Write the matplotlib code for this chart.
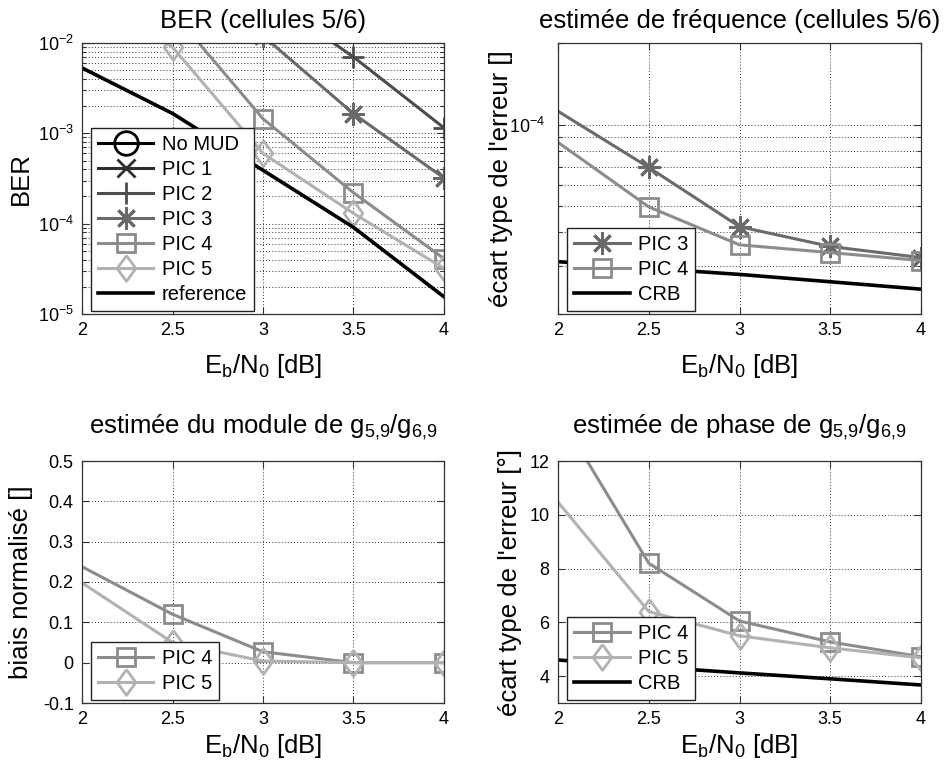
import numpy as np
import matplotlib
matplotlib.use('Agg')
import matplotlib.pyplot as plt
from matplotlib.ticker import LogLocator, NullFormatter, FixedLocator, FormatStrFormatter

plt.rcParams['font.family'] = ['Liberation Sans', 'DejaVu Sans']
plt.rcParams['mathtext.fontset'] = 'custom'
plt.rcParams['mathtext.rm'] = 'Liberation Sans'
plt.rcParams['mathtext.it'] = 'Liberation Sans:italic'
plt.rcParams['mathtext.bf'] = 'Liberation Sans:bold'

# ---------------- data ----------------
ebn0 = [2.0, 2.5, 3.0, 3.5, 4.0]
ebn0_ticks = [2, 2.5, 3, 3.5, 4]

# BER (cellules 5/6)
ber_nomud = [6.0e-2, 5.5e-2, 5.0e-2, 4.5e-2, 4.0e-2]
ber_pic1 = [4.5e-2, 3.8e-2, 3.0e-2, 2.4e-2, 1.8e-2]
ber_pic2 = [1.2e-1, 7.0e-2, 3.5e-2, 7.0e-3, 1.15e-3]
ber_pic3 = [8.0e-2, 4.0e-2, 1.2e-2, 1.65e-3, 3.2e-4]
ber_pic4 = [6.0e-2, 2.2e-2, 1.45e-3, 2.2e-4, 4.1e-5]
ber_pic5 = [4.0e-2, 9.0e-3, 6.0e-4, 1.3e-4, 3.2e-5]
ber_ref = [5.3e-3, 1.66e-3, 3.9e-4, 9.1e-5, 1.55e-5]

# estimée de fréquence
freq_pic3 = [1.12e-4, 6.95e-5, 4.2e-5, 3.55e-5, 3.23e-5]
freq_pic4 = [8.6e-5, 4.97e-5, 3.6e-5, 3.37e-5, 3.15e-5]
freq_crb = [3.12e-5, 2.95e-5, 2.8e-5, 2.63e-5, 2.47e-5]

# estimée du module
mod_pic4 = [0.238, 0.12, 0.027, 0.0, 0.0]
mod_pic5 = [0.198, 0.05, 0.004, 0.0, 0.0]

# estimée de phase
ph_pic4 = [13.8, 8.2, 6.05, 5.27, 4.72]
ph_pic5 = [10.47, 6.4, 5.5, 5.05, 4.68]
ph_crb = [4.6, 4.35, 4.12, 3.9, 3.67]

# ---------------- styles ----------------
c_nomud = '#000000'
c_pic1 = '#2e2e2e'
c_pic2 = '#4c4c4c'
c_pic3 = '#6a6a6a'
c_pic4 = '#8c8c8c'
c_pic5 = '#b2b2b2'
asterisk = (8, 2, 0)
diamond = [(0, 1), (0.73, 0), (0, -1), (-0.73, 0), (0, 1)]
LW = 2.2
MEW = 2.0

fig = plt.figure(figsize=(9.45, 7.73), dpi=100)
ax1 = fig.add_axes([82/945, 1-314/773, 362/945, 271/773])
ax2 = fig.add_axes([558/945, 1-314/773, 363/945, 271/773])
ax3 = fig.add_axes([82/945, 1-703/773, 362/945, 242/773])
ax4 = fig.add_axes([558/945, 1-703/773, 363/945, 242/773])

TITLE_FS = 18.5
LABEL_FS = 18.5
TICK_FS = 13
LEG_FS = 14.5
GRID_KW = dict(linestyle=(0, (1, 2.2)), color='#333333', linewidth=0.7)

xlab = r'E$_\mathrm{b}$/N$_\mathrm{0}$ [dB]'


def style_axes(ax, xpad):
    ax.set_xlim(2, 4)
    ax.xaxis.set_major_locator(FixedLocator(ebn0_ticks))
    ax.xaxis.set_major_formatter(FormatStrFormatter('%g'))
    ax.tick_params(which='both', direction='in', top=True, right=True,
                   labelsize=TICK_FS, pad=6, color='#333333', width=0.8)
    ax.tick_params(which='major', length=5)
    ax.tick_params(which='minor', length=3)
    for s in ax.spines.values():
        s.set_color('#333333')
        s.set_linewidth(0.9)
    ax.grid(True, which='major', **GRID_KW)
    ax.set_axisbelow(True)
    ax.set_xlabel(xlab, fontsize=LABEL_FS, labelpad=xpad)


def leg(ax, handles, labels):
    lg = ax.legend(handles, labels, loc='lower left', bbox_to_anchor=(0.025, 0.011),
                   borderaxespad=0, fontsize=LEG_FS, handlelength=2.75,
                   handletextpad=0.4, labelspacing=0.3, borderpad=0.35,
                   fancybox=False, framealpha=1, edgecolor='#222222', numpoints=1)
    lg.get_frame().set_linewidth(1.0)
    for ln in lg.get_lines():
        ln.set_markevery([1])
    return lg


def pl(ax, x, y, color, marker, ms, lw=LW):
    return ax.plot(x, y, color=color, marker=marker, markersize=ms, markerfacecolor='none',
                   markeredgecolor=color, markeredgewidth=MEW, linewidth=lw,
                   markevery=slice(1, None))[0]

# ---- BER ----
h = []
h.append(pl(ax1, ebn0, ber_nomud, c_nomud, 'o', 17))
h.append(pl(ax1, ebn0, ber_pic1, c_pic1, 'x', 13))
h.append(pl(ax1, ebn0, ber_pic2, c_pic2, '+', 16.5))
h.append(pl(ax1, ebn0, ber_pic3, c_pic3, asterisk, 16.5))
h.append(pl(ax1, ebn0, ber_pic4, c_pic4, 's', 13.5))
h.append(pl(ax1, ebn0, ber_pic5, c_pic5, diamond, 18.5))
h.append(ax1.plot(ebn0, ber_ref, color='black', linewidth=2.6)[0])
ax1.set_yscale('log')
ax1.set_ylim(1e-5, 1e-2)
ax1.yaxis.set_major_locator(LogLocator(base=10))
ax1.yaxis.set_minor_locator(LogLocator(base=10, subs=np.arange(2, 10)))
ax1.yaxis.set_minor_formatter(NullFormatter())
style_axes(ax1, 9)
ax1.yaxis.grid(True, which='minor', **GRID_KW)
ax1.set_title('BER (cellules 5/6)', fontsize=TITLE_FS, pad=10.5)
ax1.set_ylabel('BER', fontsize=LABEL_FS)
ax1.yaxis.set_label_coords(-0.135, 0.5)
leg(ax1, h, ['No MUD', 'PIC 1', 'PIC 2', 'PIC 3', 'PIC 4', 'PIC 5', 'reference'])

# ---- fréquence ----
h = []
h.append(pl(ax2, ebn0, freq_pic3, c_pic3, asterisk, 16.5))
h.append(pl(ax2, ebn0, freq_pic4, c_pic4, 's', 13.5))
h.append(ax2.plot(ebn0, freq_crb, color='black', linewidth=2.6)[0])
ax2.set_yscale('log')
ax2.set_ylim(2e-5, 2e-4)
ax2.yaxis.set_major_locator(LogLocator(base=10))
ax2.yaxis.set_minor_locator(LogLocator(base=10, subs=np.arange(2, 10)))
ax2.yaxis.set_minor_formatter(NullFormatter())
style_axes(ax2, 9)
ax2.tick_params(axis='y', which='major', pad=9)
ax2.yaxis.grid(True, which='minor', **GRID_KW)
ax2.set_title('estimée de fréquence (cellules 5/6)', fontsize=TITLE_FS, pad=10.5)
ax2.set_ylabel("écart type de l'erreur []", fontsize=LABEL_FS)
ax2.yaxis.set_label_coords(-0.124, 0.5)
leg(ax2, h, ['PIC 3', 'PIC 4', 'CRB'])

# ---- module ----
h = []
h.append(pl(ax3, ebn0, mod_pic4, c_pic4, 's', 13.5))
h.append(pl(ax3, ebn0, mod_pic5, c_pic5, diamond, 18.5))
ax3.set_ylim(-0.1, 0.5)
ax3.yaxis.set_major_locator(FixedLocator([-0.1, 0, 0.1, 0.2, 0.3, 0.4, 0.5]))
ax3.yaxis.set_major_formatter(FormatStrFormatter('%g'))
style_axes(ax3, 3)
ax3.set_title(r'estimée du module de g$_\mathrm{5{,}9}$/g$_\mathrm{6{,}9}$', fontsize=TITLE_FS, pad=20)
ax3.set_ylabel('biais normalisé []', fontsize=LABEL_FS)
ax3.yaxis.set_label_coords(-0.135, 0.5)
leg(ax3, h, ['PIC 4', 'PIC 5'])

# ---- phase ----
h = []
h.append(pl(ax4, ebn0, ph_pic4, c_pic4, 's', 13.5))
h.append(pl(ax4, ebn0, ph_pic5, c_pic5, diamond, 18.5))
h.append(ax4.plot(ebn0, ph_crb, color='black', linewidth=2.6)[0])
ax4.set_ylim(3, 12)
ax4.yaxis.set_major_locator(FixedLocator([4, 6, 8, 10, 12]))
ax4.yaxis.set_major_formatter(FormatStrFormatter('%g'))
style_axes(ax4, 3)
ax4.set_title(r'estimée de phase de g$_\mathrm{5{,}9}$/g$_\mathrm{6{,}9}$', fontsize=TITLE_FS, pad=20)
ax4.set_ylabel("écart type de l'erreur [°]", fontsize=LABEL_FS)
ax4.yaxis.set_label_coords(-0.099, 0.5)
leg(ax4, h, ['PIC 4', 'PIC 5', 'CRB'])

fig.savefig('out.png', dpi=100, facecolor='white')
